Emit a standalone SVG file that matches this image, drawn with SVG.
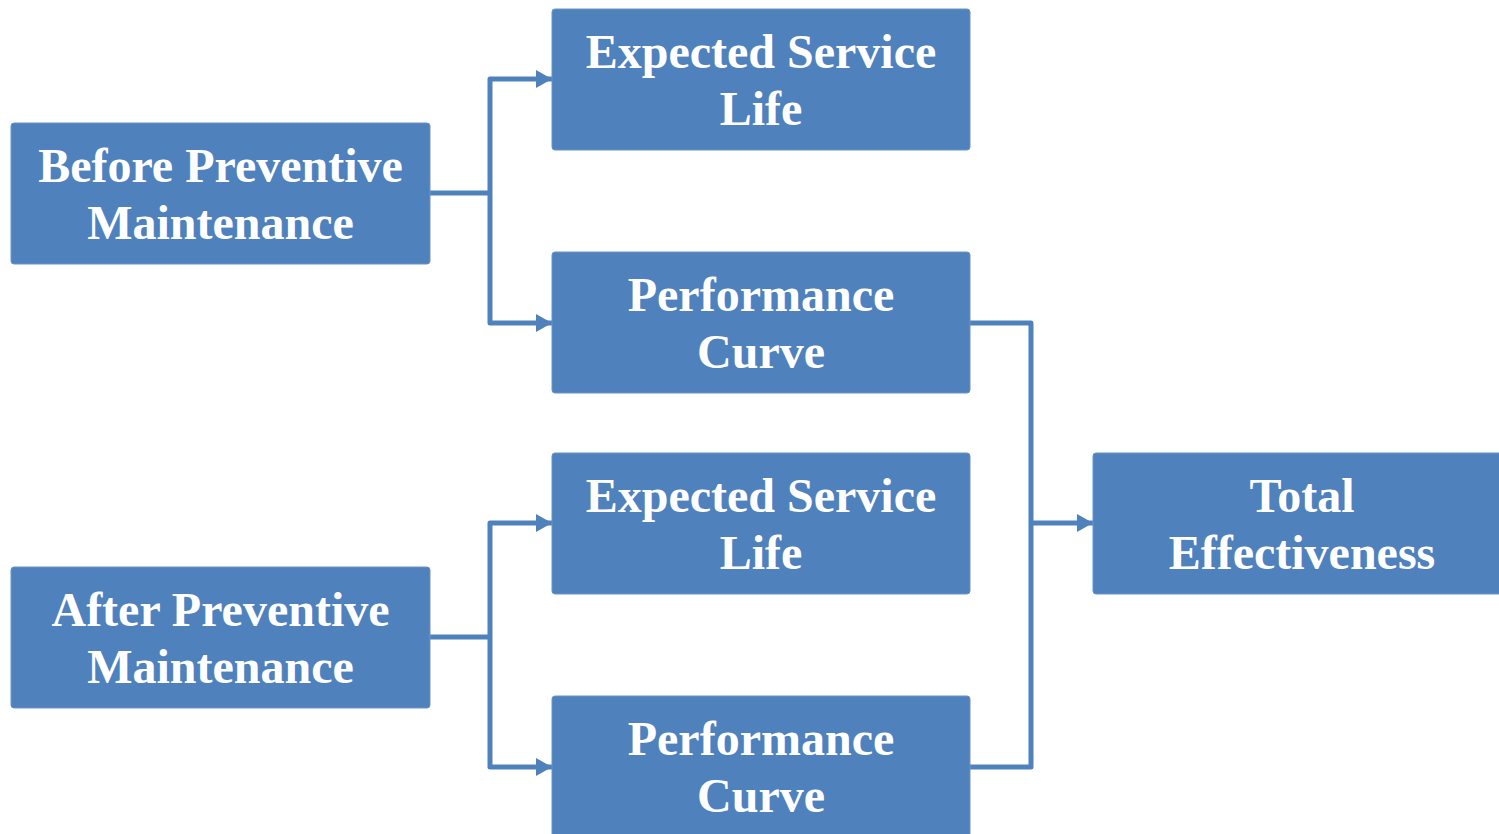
<svg xmlns="http://www.w3.org/2000/svg" width="1499" height="834" viewBox="0 0 1499 834">
  <style>
    .box { fill: #4F81BD; stroke: #6B93C6; stroke-width: 1; }
    .label { font-family: "Liberation Serif", "Times New Roman", serif; font-weight: bold; font-size: 48px; fill: #FFFFFF; text-anchor: middle; }
    .wire { fill: none; stroke: #4F81BD; stroke-width: 5; stroke-linejoin: round; }
  </style>
  <defs>
    <marker id="arrow" viewBox="0 0 16 18" refX="16" refY="9" markerUnits="userSpaceOnUse" markerWidth="16" markerHeight="18" orient="auto">
      <path d="M0,0 L16,9 L0,18 Z" fill="#4F81BD"/>
    </marker>
  </defs>

  <g id="connectors">
    <path class="wire" d="M430,193 H490"/>
    <path class="wire" d="M490,193 V79 H552" marker-end="url(#arrow)"/>
    <path class="wire" d="M490,193 V323 H552" marker-end="url(#arrow)"/>
    <path class="wire" d="M430,637 H490"/>
    <path class="wire" d="M490,637 V523 H552" marker-end="url(#arrow)"/>
    <path class="wire" d="M490,637 V767 H552" marker-end="url(#arrow)"/>
    <path class="wire" d="M970,323 H1031 V767 H970"/>
    <path class="wire" d="M1031,523 H1093" marker-end="url(#arrow)"/>
  </g>

  <g id="before">
    <rect class="box" x="11" y="123" width="419" height="141" rx="3"/>
    <text class="label" x="220.5" y="182">Before Preventive</text>
    <text class="label" x="220.5" y="239">Maintenance</text>
  </g>

  <g id="after">
    <rect class="box" x="11" y="567" width="419" height="141" rx="3"/>
    <text class="label" x="220.5" y="626">After Preventive</text>
    <text class="label" x="220.5" y="683">Maintenance</text>
  </g>

  <g id="life-before">
    <rect class="box" x="552" y="9" width="418" height="141" rx="3"/>
    <text class="label" x="761" y="68">Expected Service</text>
    <text class="label" x="761" y="125">Life</text>
  </g>

  <g id="curve-before">
    <rect class="box" x="552" y="252" width="418" height="141" rx="3"/>
    <text class="label" x="761" y="311">Performance</text>
    <text class="label" x="761" y="368">Curve</text>
  </g>

  <g id="life-after">
    <rect class="box" x="552" y="453" width="418" height="141" rx="3"/>
    <text class="label" x="761" y="512">Expected Service</text>
    <text class="label" x="761" y="569">Life</text>
  </g>

  <g id="curve-after">
    <rect class="box" x="552" y="696" width="418" height="141" rx="3"/>
    <text class="label" x="761" y="755">Performance</text>
    <text class="label" x="761" y="812">Curve</text>
  </g>

  <g id="total">
    <rect class="box" x="1093" y="453" width="410" height="141" rx="3"/>
    <text class="label" x="1302" y="512">Total</text>
    <text class="label" x="1302" y="569">Effectiveness</text>
  </g>
</svg>
